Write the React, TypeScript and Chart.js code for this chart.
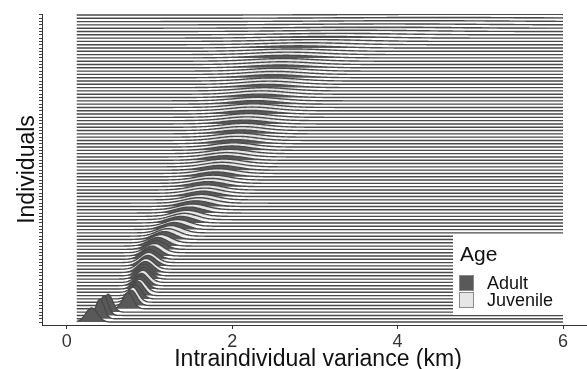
import React, { useEffect, useRef } from "react";
import { Chart, registerables } from "chart.js";

Chart.register(...registerables);

// One ridge per individual, bottom (index 0) to top.
// peakKm: location of the density mode (km)
const peakKm = [
  0.3, 0.4, 0.45, 0.5, 0.74, 0.78, 0.8, 0.83, 0.86, 0.88,
  0.89, 0.9, 0.92, 0.93, 0.94, 0.95, 0.96, 0.98, 0.99, 1.0,
  1.03, 1.06, 1.08, 1.1, 1.14, 1.18, 1.22, 1.26, 1.3, 1.34,
  1.38, 1.42, 1.45, 1.48, 1.52, 1.56, 1.6, 1.63, 1.65, 1.67,
  1.69, 1.71, 1.74, 1.77, 1.8, 1.83, 1.86, 1.88, 1.9, 1.92,
  1.94, 1.97, 2.0, 2.02, 2.04, 2.06, 2.08, 2.1, 2.12, 2.14,
  2.15, 2.18, 2.2, 2.22, 2.24, 2.26, 2.28, 2.3, 2.33, 2.36,
  2.39, 2.42, 2.45, 2.48, 2.5, 2.52, 2.55, 2.58, 2.6, 2.62,
  2.65, 2.68, 2.72, 2.8, 2.9, 3.0, 3.15, 3.3, 3.5, 3.7,
  3.9, 4.2, 4.5, 5.0,
];

// spreadKm: width (sd) of each individual's density (km)
const spreadKm = [
  0.07, 0.05, 0.05, 0.055,
  0.06, 0.065, 0.065, 0.07, 0.07,
  0.075, 0.075, 0.08, 0.08, 0.085, 0.085, 0.09, 0.09, 0.095, 0.095, 0.1,
  0.1, 0.105, 0.11, 0.115, 0.12, 0.125, 0.13, 0.135, 0.14, 0.145, 0.15, 0.155, 0.16, 0.165, 0.17, 0.175,
  0.18, 0.18, 0.185, 0.19, 0.19, 0.195, 0.2, 0.2, 0.205, 0.21, 0.21, 0.215, 0.22, 0.22, 0.225, 0.23,
  0.23, 0.235, 0.24, 0.24, 0.245, 0.25, 0.25, 0.255, 0.26, 0.26, 0.265, 0.27, 0.27, 0.275, 0.28, 0.28,
  0.29, 0.29, 0.3, 0.3, 0.31, 0.32, 0.32, 0.33, 0.34, 0.35, 0.36, 0.37, 0.38, 0.4, 0.42,
  0.45, 0.5, 0.55, 0.6, 0.7, 0.8, 0.9, 1.0, 1.1, 1.2, 1.3,
];

// ageGroup: A = Adult, J = Juvenile
const ageGroup = (
  "AAAAAAJAAJ" + "AAJAAAJAJA" + "AJAAJAJJAJ" + "AJJAJAJJAJ" + "JAJJAJAJJA" +
  "JJAJAJJAJJ" + "AJJAJJAJAJ" + "JAJJAJJAJJ" + "AJJAJJAJJA" + "JJAJ"
).split("");

const xTicks = [0, 2, 4, 6];
const xTitle = "Intraindividual variance (km)";
const yTitle = "Individuals";
const legendTitle = "Age";
const legendLabels = ["Adult", "Juvenile"];

// density evaluation grid (km) and ridge scale
const gridFrom = 0.12;
const gridTo = 6.0;
const gridStep = 0.02;
const ridgeArea = 0.75;

const adultFill = "#595959";
const juvenileFill = "#e6e6e6";
const FONT = "'Liberation Sans', Arial, sans-serif";

export default function App() {
  const ref = useRef<HTMLCanvasElement>(null);

  useEffect(() => {
    document.body.style.margin = "0";
    const canvas = ref.current;
    if (!canvas) return;

    const xs: number[] = [];
    for (let k = 0; gridFrom + k * gridStep <= gridTo + 1e-9; k++) {
      xs.push(+(gridFrom + k * gridStep).toFixed(4));
    }

    const datasets = peakKm.map((mu, i) => {
      const sd = spreadKm[i];
      const h = ridgeArea / (sd * Math.sqrt(2 * Math.PI));
      return {
        label: "ind" + i,
        data: xs.map((x) => ({ x, y: i + h * Math.exp(-0.5 * ((x - mu) / sd) ** 2) })),
        borderColor: "#4a4a4a",
        borderWidth: 1.4,
        pointRadius: 0,
        backgroundColor: ageGroup[i] === "A" ? adultFill : juvenileFill,
        fill: { value: i },
        tension: 0,
      };
    });

    const overlay = {
      id: "overlay",
      afterDraw(chart: any) {
        const ctx = chart.ctx as CanvasRenderingContext2D;
        const area = chart.chartArea;
        ctx.save();
        // axis titles
        ctx.fillStyle = "#111";
        ctx.font = `23px ${FONT}`;
        ctx.textAlign = "center";
        ctx.textBaseline = "alphabetic";
        ctx.fillText(xTitle, 318, 366);
        ctx.save();
        ctx.translate(34, (area.top + area.bottom) / 2);
        ctx.rotate(-Math.PI / 2);
        ctx.fillText(yTitle, 0, 0);
        ctx.restore();

        // legend
        ctx.fillStyle = "#ffffff";
        ctx.fillRect(453, 235, 110, 80);
        ctx.fillStyle = "#111";
        ctx.textAlign = "left";
        ctx.font = `21px ${FONT}`;
        ctx.fillText(legendTitle, 460, 261);
        const fills = [adultFill, juvenileFill];
        legendLabels.forEach((lab, k) => {
          const y0 = 275 + k * 17;
          ctx.fillStyle = fills[k];
          ctx.fillRect(459, y0, 15, 16);
          ctx.strokeStyle = "#8a8a8a";
          ctx.lineWidth = 1;
          ctx.strokeRect(459.5, y0 + 0.5, 14, 15);
          ctx.fillStyle = "#111";
          ctx.font = `18px ${FONT}`;
          ctx.textBaseline = "middle";
          ctx.fillText(lab, 487, y0 + 9);
          ctx.textBaseline = "alphabetic";
        });
        ctx.restore();
      },
    };

    const chart = new Chart(canvas, {
      type: "line",
      data: { datasets: datasets as any },
      options: {
        animation: false,
        responsive: false,
        devicePixelRatio: 1,
        layout: { padding: { top: 14, right: 0, bottom: 0, left: 0 } },
        plugins: { legend: { display: false }, tooltip: { enabled: false } },
        elements: { line: { borderJoinStyle: "round" } },
        scales: {
          x: {
            type: "linear",
            min: -0.3,
            max: 6.29,
            afterBuildTicks: (s: any) => {
              s.ticks = xTicks.map((v) => ({ value: v }));
            },
            afterFit: (s: any) => {
              s.height = 44;
            },
            grid: { display: true, drawOnChartArea: false, drawTicks: true, tickLength: 4, color: "#333" },
            border: { display: true, color: "#333", width: 1 },
            ticks: { color: "#333", font: { family: FONT, size: 18 }, padding: 2, maxRotation: 0 },
          },
          y: {
            type: "linear",
            min: -0.9,
            max: 93.3,
            afterBuildTicks: (s: any) => {
              s.ticks = peakKm.map((_, i) => ({ value: i }));
            },
            afterFit: (s: any) => {
              s.width = 42;
            },
            grid: { display: true, drawOnChartArea: false, drawTicks: true, tickLength: 3, color: "#444" },
            border: { display: true, color: "#333", width: 1 },
            ticks: { display: false },
          },
        },
      },
      plugins: [overlay],
    });

    return () => chart.destroy();
  }, []);

  return <canvas ref={ref} width={587} height={369} style={{ display: "block" }} />;
}
